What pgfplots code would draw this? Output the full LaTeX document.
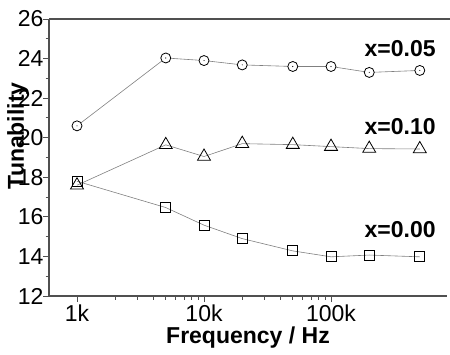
\documentclass[border=0pt]{standalone}
\usepackage{fontspec}
\setmainfont{Liberation Sans}
\usepackage{pgfplots}
\pgfplotsset{compat=1.18}
\pgfdeclareplotmark{odot}{%
  \pgfpathcircle{\pgfpointorigin}{\pgfplotmarksize}%
  \pgfusepathqfillstroke
  \begin{pgfscope}%
  \pgfsetfillcolor{black}%
  \pgfpathcircle{\pgfpointorigin}{0.55pt}%
  \pgfusepathqfill
  \end{pgfscope}}
\definecolor{axgray}{HTML}{505050}
\definecolor{lngray}{HTML}{808080}
\begin{document}
\begin{tikzpicture}
\begin{axis}[
  at={(0,0)}, anchor=south west,
  scale only axis, width=398pt, height=277pt,
  xmode=log, xmin=602, xmax=819000,
  ymin=12, ymax=26,
  axis lines=left,
  axis line style={axgray, line width=1.1pt, -},
  every tick/.style={axgray, line width=0.9pt},
  tick align=outside,
  major tick length=6pt, minor tick length=3.5pt,
  ytick={12,14,...,26}, minor ytick={13,15,...,25},
  xtick={1000,10000,100000}, xticklabels={1k,10k,100k},
  /pgf/number format/assume math mode=true,
  ticklabel style={font=\fontsize{23}{26}\selectfont},
  yticklabel style={xshift=4pt},
  xticklabel style={yshift=1pt},
  xlabel={Frequency / Hz},
  ylabel={Tunability},
  every axis x label/.style={at={(axis description cs:0.5,-0.173)}, anchor=base, font=\fontsize{23}{26}\selectfont\bfseries},
  every axis y label/.style={at={(axis description cs:-0.078,0.578)}, rotate=90, anchor=center, font=\fontsize{23}{26}\selectfont\bfseries},
  clip=false,
]
\addplot[lngray, line width=0.6pt, mark=square, mark size=5pt, mark options={draw=black, fill=white, line width=0.8pt, solid}]
  coordinates {(1000,17.8) (5000,16.47) (10000,15.58) (20000,14.9) (50000,14.28) (100000,13.98) (200000,14.07) (500000,13.98)};
\addplot[lngray, line width=0.6pt, mark=triangle, mark size=7.5pt, mark options={draw=black, fill=white, line width=0.8pt, solid}]
  coordinates {(1000,17.6) (5000,19.64) (10000,19.05) (20000,19.7) (50000,19.65) (100000,19.55) (200000,19.45) (500000,19.43)};
\addplot[lngray, line width=0.6pt, mark=odot, mark size=5pt, mark options={draw=black, fill=white, line width=0.8pt, solid}]
  coordinates {(1000,20.6) (5000,24.03) (10000,23.9) (20000,23.68) (50000,23.6) (100000,23.6) (200000,23.3) (500000,23.4)};
\draw[axgray, line width=1.1pt] (rel axis cs:0,1) -- ([xshift=3pt]rel axis cs:1,1);
\node[font=\fontsize{23}{26}\selectfont\bfseries] at (axis cs:350000,24.48) {x=0.05};
\node[font=\fontsize{23}{26}\selectfont\bfseries] at (axis cs:350000,20.55) {x=0.10};
\node[font=\fontsize{23}{26}\selectfont\bfseries] at (axis cs:350000,15.34) {x=0.00};
\end{axis}
\pgfresetboundingbox
\path[use as bounding box] (-49pt,-58pt) rectangle (401pt,296pt);
\end{tikzpicture}
\end{document}
